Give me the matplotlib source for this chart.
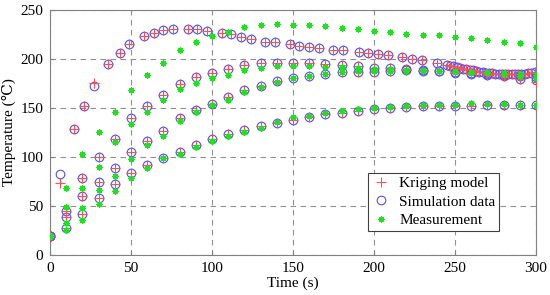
import matplotlib
matplotlib.use("Agg")
import matplotlib.pyplot as plt
import numpy as np

plt.rcParams['font.family'] = ['Liberation Serif', 'DejaVu Serif']
plt.rcParams['font.size'] = 11

# common 10 s grid for the three slower curves and all measurements
t10 = list(range(0, 301, 10))

# curve A (fast-heating), simulation sampled at irregular times
t_a = [0, 6, 15, 21, 27, 36, 43, 49, 58, 64, 70, 76, 85, 91, 97, 106, 112, 118,
       124, 133, 139, 148, 154, 160, 166, 175, 181, 190.5, 196.5, 202.7, 208.5,
       217.5, 223.5, 229.8, 238.7,
       245, 247, 249, 251, 253, 255, 257, 259, 261, 263, 265, 267, 269, 271,
       273, 275, 277, 279, 281, 283, 285, 287, 289, 291, 293, 295, 297, 299.5]
sim_a = [19.4, 82.7, 128.3, 152.4, 172.4, 194.8, 206.0, 215.0, 223.8, 227.0, 229.6,
         230.6, 230.8, 230.3, 228.9, 226.5, 225.3, 222.8, 220.4, 217.7, 217.0, 215.0,
         213.3, 212.2, 211.0, 209.2, 208.8, 207.5, 206.5, 205.0, 204.4, 201.9, 200.5,
         199.0, 196.0,
         193.9, 193.2, 192.5, 191.8, 191.0, 190.3, 189.6, 189.0, 188.4, 187.8,
         187.2, 186.7, 186.2, 185.8, 185.4, 185.0, 184.8, 184.6, 184.5, 184.4,
         184.4, 184.5, 184.6, 184.8, 185.1, 185.5, 186.0, 186.8]
meas_a = [19.4, 68.7, 103.0, 125.8, 146.0, 168.4, 183.7, 196.3, 209.2, 217.0, 223.5,
          228.0, 232.3, 234.7, 235.4, 234.7, 234.7, 233.7, 232.0, 230.3, 229.0, 227.9,
          226.0, 224.8, 224.2, 222.1, 221.0, 219.4, 217.7, 216.0, 212.6]

sim_b = [19.4, 44.9, 78.2, 99.7, 118.0, 139.5, 152.4, 163.3, 174.5, 181.3, 186.2,
         189.5, 193.6, 195.6, 196.2, 196.3, 195.6, 194.6, 193.6, 192.9, 191.1, 190.5,
         189.5, 188.5, 188.0, 187.0, 186.0, 185.0, 184.0, 183.0, 182.0]
meas_b = [19.4, 49.3, 68.0, 89.5, 115.0, 133.7, 146.0, 158.0, 169.4, 175.2, 180.3,
          184.0, 188.8, 190.5, 193.0, 192.5, 192.5, 192.0, 192.0, 191.0, 190.0, 189.8,
          189.0, 188.5, 188.0, 188.0, 187.0, 187.0, 186.0, 185.0, 184.0]

sim_c = [19.4, 38.5, 60.2, 74.8, 88.4, 105.4, 116.3, 126.8, 140.0, 148.0, 154.5,
         161.0, 168.4, 172.4, 177.2, 180.6, 182.3, 184.4, 186.4, 187.0, 187.0, 187.8,
         188.5, 188.0, 187.5, 186.0, 185.0, 184.0, 182.5, 179.5, 178.6]
meas_c = [19.4, 33.0, 48.0, 66.3, 81.0, 97.6, 112.0, 121.4, 137.0, 146.0, 153.0,
          158.0, 166.0, 171.0, 177.0, 181.0, 183.0, 185.0, 187.0, 188.0, 188.0, 188.0,
          188.0, 188.0, 188.0, 187.0, 186.0, 186.0, 185.0, 183.0, 181.0]

sim_d = [19.4, 27.2, 41.5, 57.8, 72.4, 83.4, 91.8, 99.0, 105.4, 112.0, 118.0,
         123.0, 127.6, 131.6, 134.4, 137.8, 140.5, 143.6, 144.6, 147.0, 149.0, 150.3,
         151.3, 152.0, 152.0, 152.0, 152.5, 153.0, 153.0, 153.0, 153.0]
meas_d = [19.4, 25.5, 36.0, 52.0, 65.6, 79.0, 89.0, 98.6, 103.0, 110.0, 116.0,
          121.0, 126.0, 130.0, 136.0, 141.0, 142.0, 145.0, 147.0, 149.0, 150.0, 151.5,
          152.0, 153.0, 153.0, 153.0, 155.0, 154.0, 154.0, 153.0, 153.0]

# kriging predictions: equal to the simulation except where they visibly differ
krig_a = list(sim_a)
krig_a[1] = 73.8
krig_a[4] = 175.0
krig_b = list(sim_b)
krig_c = list(sim_c)
krig_c[-1] = 177.0
krig_d = list(sim_d)

fig = plt.figure(figsize=(5.5, 2.95), dpi=100)
ax = fig.add_axes([0.0909, 0.1356, 0.8836, 0.8305])

krig_t = [t_a, t10, t10, t10]
krig_v = [krig_a, krig_b, krig_c, krig_d]
sim_v = [sim_a, sim_b, sim_c, sim_d]
meas_v = [meas_a, meas_b, meas_c, meas_d]

for i in range(4):
    ax.plot(krig_t[i], krig_v[i], ls='none', marker='+', ms=6.5, mew=0.8,
            color='#ff5050', label='Kriging model' if i == 0 else None, zorder=3)
    ax.plot(krig_t[i], sim_v[i], ls='none', marker='o', ms=6.2, mew=0.8,
            mfc='none', mec='#5050ff', label='Simulation data' if i == 0 else None,
            zorder=2)
    ax.plot(t10, meas_v[i], ls='none', marker=(8, 2, 0), ms=4.5, mew=0.9,
            color='#20e020', label='Measurement' if i == 0 else None, zorder=4)

ax.set_xlim(0, 300)
ax.set_ylim(0, 250)
ax.set_xticks(np.arange(0, 301, 50))
ax.set_yticks(np.arange(0, 251, 50))
ax.grid(True, ls=(0, (5, 4)), color='#909090', lw=0.8)
ax.tick_params(direction='in', length=3, color='#808080', pad=5)
for s in ax.spines.values():
    s.set_color('#808080')
    s.set_linewidth(0.8)

ax.set_xlabel('Time (s)', labelpad=1)
ax.set_ylabel('Temperature (\u2103)', labelpad=3)

leg = ax.legend(loc='lower right', bbox_to_anchor=(0.94, 0.068), fancybox=False,
                framealpha=1, edgecolor='#404040', borderpad=0.25,
                labelspacing=0.3, handlelength=1.2, handletextpad=0.6)
leg.get_frame().set_linewidth(0.8)

fig.savefig('out.png', dpi=100)
